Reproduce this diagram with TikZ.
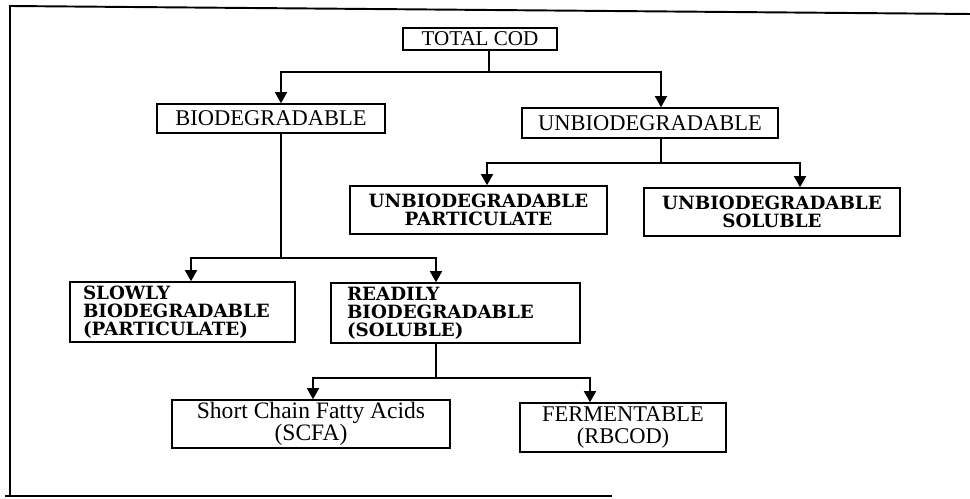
\documentclass[tikz,border=0pt]{standalone}
\usepackage{fontspec}
\setmainfont{Liberation Serif}
\newfontfamily\capsfont{DejaVu Serif}
\usetikzlibrary{arrows.meta}

\tikzset{
  box/.style={draw,line width=0.9pt,inner sep=0pt,align=center,font=\fontsize{12.8}{13}\selectfont},
  capbox/.style={box,font=\capsfont\bfseries\fontsize{10.4}{10.2}\selectfont},
  arr/.style={line width=0.9pt,-{Triangle[length=0.22cm,width=0.24cm]}},
  conn/.style={line width=0.9pt}
}

\begin{document}
\begin{tikzpicture}[x=0.02cm,y=-0.02cm]
	\useasboundingbox (0,0) rectangle (970,499);
	% frame
	\draw[line width=1.1pt] (970,14) -- (10,6) -- (10,496);
	\draw[line width=1.3pt] (5,496) -- (612,496);

	\node[box,font=\fontsize{12}{13}\selectfont,minimum width=3.08cm,minimum height=0.44cm] (tot) at (480,39) {TOTAL COD};
	\node[box,minimum width=4.56cm,minimum height=0.58cm] (bio) at (271,118.5) {BIODEGRADABLE};
	\node[box,minimum width=5.12cm,minimum height=0.6cm] (unbio) at (650,123) {UNBIODEGRADABLE};

	\node[capbox,minimum width=5.14cm,minimum height=0.96cm] (unpart) at (478.5,210) {UNBIODEGRADABLE\\PARTICULATE};
	\node[capbox,minimum width=5.12cm,minimum height=0.96cm] (unsol) at (772,212) {UNBIODEGRADABLE\\SOLUBLE};

	\node[capbox,align=left,text width=3.98cm,inner xsep=0.26cm,minimum height=1.2cm] (slow) at (182.5,312) {SLOWLY\\BIODEGRADABLE\\(PARTICULATE)};
	\node[capbox,align=left,text width=4.34cm,inner xsep=0.32cm,minimum height=1.2cm] (ready) at (455.5,313) {READILY\\BIODEGRADABLE\\(SOLUBLE)};

	\node[box,font=\fontsize{13.4}{12.5}\selectfont,minimum width=5.56cm,minimum height=0.96cm] (scfa) at (311,424) {Short Chain Fatty Acids\\(SCFA)};
	\node[box,font=\fontsize{12.8}{12.5}\selectfont,minimum width=4.12cm,minimum height=0.98cm] (ferm) at (623,427.5) {FERMENTABLE\\(RBCOD)};

	% branch points
	\coordinate (j0) at (489,72);
	\coordinate (j1) at (281,258);
	\coordinate (j2) at (661,163);
	\coordinate (j3) at (436,378);

	\draw[conn] (j0 |- tot.south) -- (j0);
	\draw[arr] (j0) -| ([xshift=0.2cm]bio.north);
	\draw[arr] (j0) -| ([xshift=0.22cm]unbio.north);

	\draw[conn] (j2 |- unbio.south) -- (j2);
	\draw[arr] (j2) -| ([xshift=0.17cm]unpart.north);
	\draw[arr] (j2) -| ([xshift=0.56cm]unsol.north);

	\draw[conn] (j1 |- bio.south) -- (j1);
	\draw[arr] (j1) -| ([xshift=0.17cm]slow.north);
	\draw[arr] (j1) -| ([xshift=-0.39cm]ready.north);

	\draw[conn] (j3 |- ready.south) -- (j3);
	\draw[arr] (j3) -| ([xshift=0.04cm]scfa.north);
	\draw[arr] (j3) -| ([xshift=-0.66cm]ferm.north);
\end{tikzpicture}
\end{document}
